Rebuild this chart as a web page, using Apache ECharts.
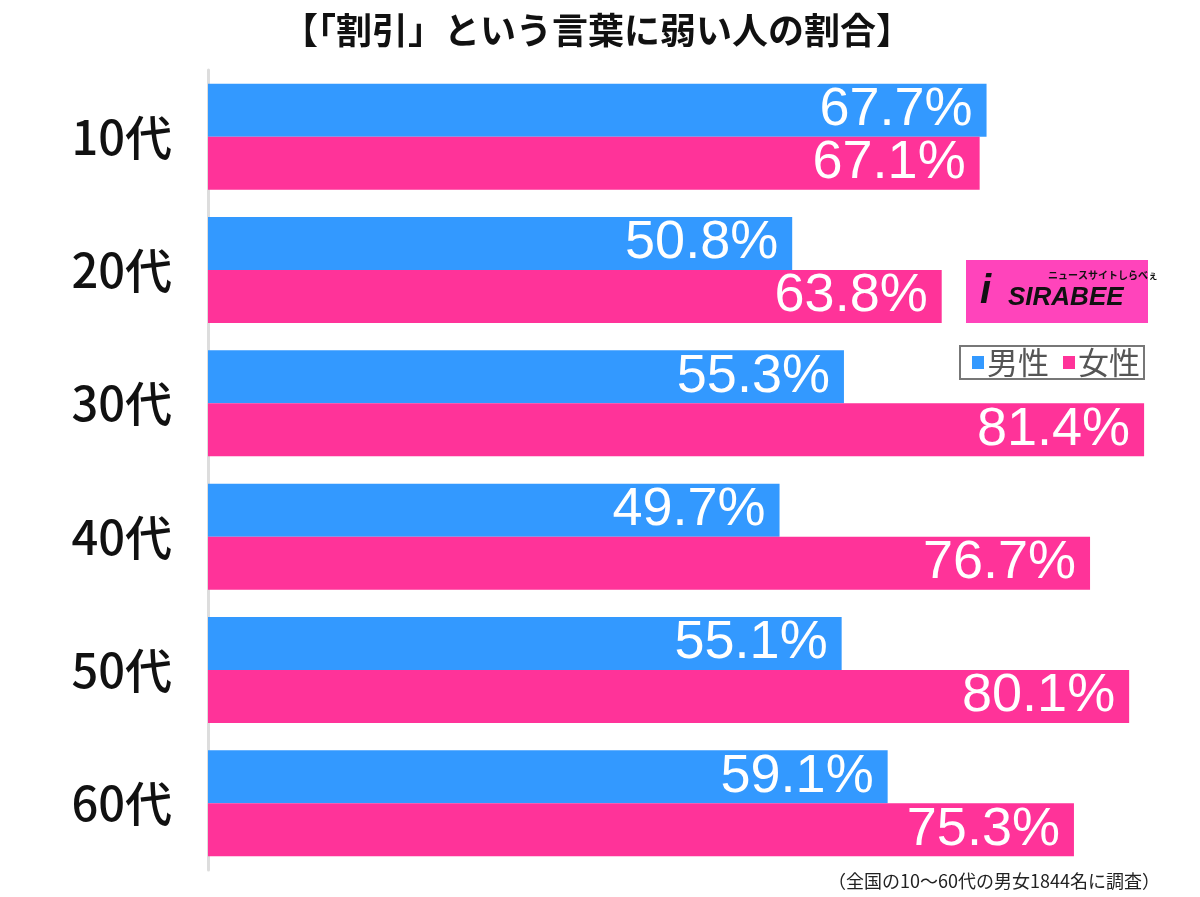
<!DOCTYPE html>
<html>
<head>
<meta charset="utf-8">
<script src="https://cdn.jsdelivr.net/npm/echarts@6/dist/echarts.min.js"></script>
<style>
html,body{margin:0;padding:0;background:#fff;}
#main{width:1200px;height:897px;}
</style>
</head>
<body>
<div id="main"></div>
<script>
var categories = ['10代', '20代', '30代', '40代', '50代', '60代'];
var maleValues = [67.7, 50.8, 55.3, 49.7, 55.1, 59.1];
var femaleValues = [67.1, 63.8, 81.4, 76.7, 80.1, 75.3];
var seriesNames = ['男性', '女性'];

var myChart = echarts.init(document.getElementById('main'));

var labelStyle = {
    show: true,
    position: 'insideRight',
    distance: 14,
    color: '#fff',
    fontSize: 54,
    fontFamily: 'Liberation Sans, Arial, sans-serif',
    formatter: function (p) {
        return p.value.toFixed(1) + '%';
    }
};

var option = {
    backgroundColor: '#fff',
    animation: false,
    title: {
        text: '【「割引」という言葉に弱い人の割合】',
        left: 592,
        top: 7,
        textAlign: 'center',
        textStyle: {
            fontSize: 36,
            fontWeight: 'bold',
            color: '#111',
            fontFamily: 'Noto Sans CJK JP'
        }
    },
    legend: {
        data: seriesNames,
        right: 56,
        top: 346,
        orient: 'horizontal',
        icon: 'rect',
        itemWidth: 12,
        itemHeight: 13,
        itemGap: 14,
        padding: [1, 4, 1, 12],
        borderColor: '#777',
        borderWidth: 2,
        borderRadius: 0,
        textStyle: {
            fontSize: 31,
            color: '#555',
            fontFamily: 'Noto Sans CJK JP',
            padding: [0, 0, 0, -2]
        }
    },
    grid: {
        left: 208,
        right: 14.5,
        top: 70,
        bottom: 27,
        containLabel: false
    },
    xAxis: {
        type: 'value',
        min: 0,
        max: 85,
        show: false
    },
    yAxis: {
        type: 'category',
        data: categories,
        inverse: true,
        axisLine: {
            show: true,
            lineStyle: {color: '#ddd', width: 3}
        },
        axisTick: {show: false},
        axisLabel: {
            fontSize: 47,
            fontWeight: 500,
            color: '#111',
            margin: 36,
            fontFamily: 'Noto Sans CJK JP'
        }
    },
    series: [
        {
            name: seriesNames[0],
            type: 'bar',
            data: maleValues,
            barWidth: 53,
            barGap: '0%',
            itemStyle: {color: '#3399ff'},
            label: labelStyle
        },
        {
            name: seriesNames[1],
            type: 'bar',
            data: femaleValues,
            barWidth: 53,
            barGap: '0%',
            itemStyle: {color: '#ff3399'},
            label: labelStyle
        }
    ],
    graphic: [
        { // logo
            type: 'group',
            left: 966,
            top: 260,
            children: [
                {
                    type: 'rect',
                    shape: {x: 0, y: 0, width: 182, height: 63},
                    style: {fill: '#ff44bb'}
                },
                {
                    type: 'text',
                    left: 14,
                    top: 12,
                    style: {
                        text: 'i',
                        font: 'bold italic 40px Liberation Sans',
                        fill: '#111'
                    }
                },
                {
                    type: 'text',
                    left: 42,
                    top: 25,
                    style: {
                        text: 'SIRABEE',
                        font: 'bold italic 26px Liberation Sans',
                        fill: '#111'
                    }
                },
                {
                    type: 'text',
                    left: 82,
                    top: 10,
                    style: {
                        text: 'ニュースサイトしらべぇ',
                        font: 'bold 10px Noto Sans CJK JP',
                        fill: '#111'
                    }
                }
            ]
        },
        {
            type: 'text',
            right: 40,
            top: 872,
            style: {
                text: '（全国の10〜60代の男女1844名に調査）',
                font: '18px Noto Sans CJK JP',
                fill: '#222'
            }
        }
    ]
};
myChart.setOption(option);
</script>
</body>
</html>
